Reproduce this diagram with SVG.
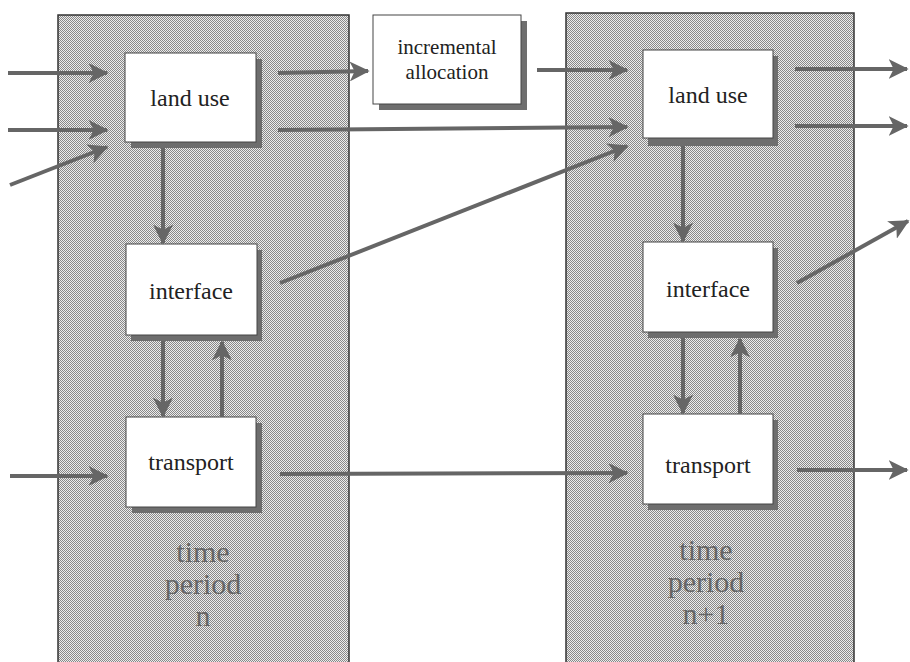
<svg xmlns="http://www.w3.org/2000/svg" width="910" height="662" viewBox="0 0 910 662">
<defs>
<pattern id="dots" width="2" height="2" patternUnits="userSpaceOnUse">
<rect width="2" height="2" fill="#ececec"/>
<rect x="0" y="0" width="1" height="1" fill="#888"/>
<rect x="1" y="1" width="1" height="1" fill="#888"/>
</pattern>
<marker id="ah" viewBox="0 0 12 12" refX="11" refY="6" markerWidth="5" markerHeight="5" markerUnits="strokeWidth" orient="auto">
<path d="M0,0 L12,6 L0,12 L3,6 Z" fill="#666"/>
</marker>
</defs>
<style>
.panel{fill:url(#dots);stroke:#333;stroke-width:1.5}
.box{fill:#fff;stroke:#444;stroke-width:1}
.shadow{fill:#6e6e6e}
.lbl{font-family:'Liberation Serif','Times New Roman',serif;font-size:24px;fill:#222;text-anchor:middle}
.sm{font-family:'Liberation Serif','Times New Roman',serif;font-size:21px;fill:#222;text-anchor:middle}
.big{font-family:'Liberation Serif','Times New Roman',serif;font-size:30px;fill:#666;text-anchor:middle}
.c{stroke:#666;stroke-width:4;fill:none;marker-end:url(#ah)}
</style>
<rect width="910" height="662" fill="#fff"/>
<g id="panel-n">
<rect class="panel" x="58" y="15" width="291" height="660"/>
<text class="big" x="203" y="562">time</text>
<text class="big" x="203" y="594">period</text>
<text class="big" x="203" y="626">n</text>
</g>
<g id="panel-n1">
<rect class="panel" x="566" y="13" width="288" height="662"/>
<text class="big" x="706" y="560">time</text>
<text class="big" x="706" y="592">period</text>
<text class="big" x="706" y="624">n+1</text>
</g>
<g id="landuse-n">
<rect class="shadow" x="131" y="59" width="131" height="89"/>
<rect class="box" x="125" y="53" width="131" height="89"/>
<text class="lbl" x="190" y="106">land use</text>
</g>
<g id="interface-n">
<rect class="shadow" x="131" y="250" width="131" height="91"/>
<rect class="box" x="126" y="244" width="131" height="91"/>
<text class="lbl" x="191" y="299">interface</text>
</g>
<g id="transport-n">
<rect class="shadow" x="132" y="423" width="130" height="90"/>
<rect class="box" x="126" y="417" width="130" height="90"/>
<text class="lbl" x="191" y="470">transport</text>
</g>
<g id="allocation">
<rect class="shadow" x="379" y="21" width="148" height="89"/>
<rect class="box" x="373" y="15" width="148" height="89"/>
<text class="sm" x="447" y="54">incremental</text>
<text class="sm" x="447" y="79">allocation</text>
</g>
<g id="landuse-n1">
<rect class="shadow" x="648" y="56" width="130" height="90"/>
<rect class="box" x="643" y="50" width="130" height="88"/>
<text class="lbl" x="708" y="103">land use</text>
</g>
<g id="interface-n1">
<rect class="shadow" x="648" y="248" width="130" height="90"/>
<rect class="box" x="643" y="242" width="130" height="90"/>
<text class="lbl" x="708" y="297">interface</text>
</g>
<g id="transport-n1">
<rect class="shadow" x="648" y="420" width="130" height="90"/>
<rect class="box" x="643" y="414" width="130" height="90"/>
<text class="lbl" x="708" y="473">transport</text>
</g>
<g id="connectors">
<line class="c" x1="8" y1="73" x2="107" y2="73"/>
<line class="c" x1="8" y1="130" x2="107" y2="130"/>
<line class="c" x1="10" y1="185" x2="107" y2="147"/>
<line class="c" x1="10" y1="476" x2="107" y2="476"/>
<line class="c" x1="278" y1="73" x2="368" y2="71"/>
<line class="c" x1="278" y1="130" x2="627" y2="127"/>
<line class="c" x1="537" y1="70" x2="627" y2="70"/>
<line class="c" x1="280" y1="283" x2="627" y2="146"/>
<line class="c" x1="163" y1="148" x2="163" y2="243"/>
<line class="c" x1="163" y1="341" x2="163" y2="416"/>
<line class="c" x1="222" y1="417" x2="222" y2="342"/>
<line class="c" x1="280" y1="474" x2="627" y2="473"/>
<line class="c" x1="683" y1="146" x2="683" y2="241"/>
<line class="c" x1="683" y1="338" x2="683" y2="413"/>
<line class="c" x1="740" y1="414" x2="740" y2="339"/>
<line class="c" x1="795" y1="69" x2="907" y2="69"/>
<line class="c" x1="795" y1="126" x2="907" y2="126"/>
<line class="c" x1="797" y1="283" x2="908" y2="221"/>
<line class="c" x1="797" y1="470" x2="907" y2="470"/>
</g>
</svg>
